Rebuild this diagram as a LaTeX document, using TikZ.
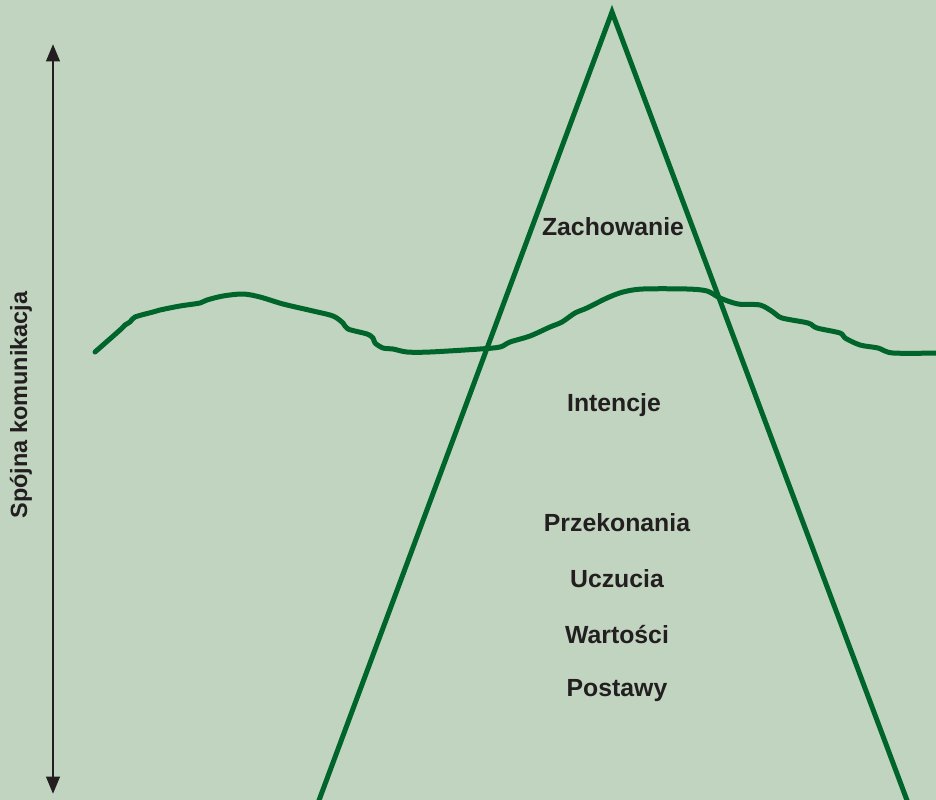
\documentclass[tikz,border=0pt]{standalone}
\usepackage{fontspec}
\setmainfont{Liberation Sans}
\usetikzlibrary{arrows.meta}
\definecolor{bg}{HTML}{C1D4C0}
\definecolor{lineg}{HTML}{00652B}
\definecolor{ink}{HTML}{231F20}
\tikzset{
  lbl/.style={font=\bfseries\fontsize{18.6}{21}\selectfont, text=ink, inner sep=0pt},
  vlbl/.style={font=\bfseries\fontsize{17.6}{20}\selectfont, text=ink, inner sep=0pt},
  greenline/.style={draw=lineg, line width=3.75pt, line cap=round, line join=round},
}
\begin{document}
\begin{tikzpicture}[x=0.75pt,y=-0.75pt]
\fill[bg] (0,0) rectangle (936,800);
\useasboundingbox (0,0) rectangle (936,800);
\begin{scope}
\clip (0,0) rectangle (936,800);
% pyramid
\coordinate (apex) at (612,12);
\coordinate (bl) at (318,803);
\coordinate (br) at (908,803);
\draw[draw=lineg, line width=3.75pt, line join=miter, miter limit=20] (bl) -- (apex) -- (br);
% wave
\draw[greenline] plot[smooth, tension=0.5] coordinates {
(95,352) (120,330) (125,325) (130,322) (135,317) (153,312) (160,310) (180,306)
(200,303) (207,300) (223,296) (243,294) (260,297) (283,304) (313,311) (333,316)
(343,323) (348,329) (367,334) (373,338) (375,343) (383,348) (393,349) (407,352)
(430,352) (480,349) (500,347) (510,342) (530,336) (550,327) (562,322) (575,313)
(587,308) (607,298) (623,292) (643,289) (687,289) (707,291) (720,298) (738,304)
(760,305) (773,312) (782,318) (808,323) (817,328) (840,333) (845,338) (860,345)
(878,348) (893,353) (940,353)};
\end{scope}
% arrow
\coordinate (atop) at (53,44);
\coordinate (abot) at (53,794);
\draw[ink, line width=2.2pt, {Triangle[width=10pt,length=13pt]}-{Triangle[width=10pt,length=13pt]}] (atop) -- (abot);
\node[vlbl, rotate=90] (spojna) at (21,405) {Spójna komunikacja};
% labels
\node[lbl] (zach) at (613,227) {Zachowanie};
\node[lbl] (int) at (614,405) {Intencje};
\node[lbl] (prz) at (617,523) {Przekonania};
\node[lbl] (ucz) at (617,579) {Uczucia};
\node[lbl] (war) at (617,635) {Wartości};
\node[lbl] (pos) at (617,691) {Postawy};
\end{tikzpicture}
\end{document}
